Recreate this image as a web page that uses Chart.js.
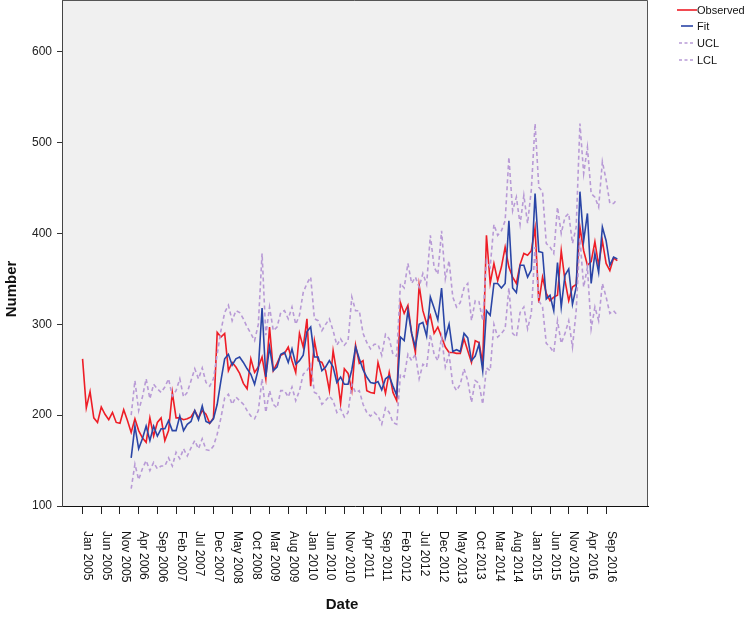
<!DOCTYPE html>
<html>
<head>
<meta charset="utf-8">
<script src="https://cdn.jsdelivr.net/npm/chart.js@4.4.1/dist/chart.umd.min.js"></script>
<style>
  html, body { margin: 0; padding: 0; background: #fff; }
</style>
</head>
<body>
<canvas id="chart" width="748" height="624"></canvas>
<script>
// x positions are month indices, Jan 2005 = 0 ... Dec 2016 = 143
const tickLabels = ['Jan 2005', 'Jun 2005', 'Nov 2005', 'Apr 2006', 'Sep 2006', 'Feb 2007', 'Jul 2007',
    'Dec 2007', 'May 2008', 'Oct 2008', 'Mar 2009', 'Aug 2009', 'Jan 2010', 'Jun 2010', 'Nov 2010',
    'Apr 2011', 'Sep 2011', 'Feb 2012', 'Jul 2012', 'Dec 2012', 'May 2013', 'Oct 2013', 'Mar 2014',
    'Aug 2014', 'Jan 2015', 'Jun 2015', 'Nov 2015', 'Apr 2016', 'Sep 2016'];
const tickStep = 5;
const yTicks = [100, 200, 300, 400, 500, 600];

const observed = [
    262, 208, 226, 197, 192, 209, 201, 195, 203, 192,
    191, 206, 194, 181, 196, 183, 175, 170, 197, 177,
    192, 197, 172, 183, 225, 197, 197, 195, 196, 198,
    205, 197, 205, 201, 191, 197, 291, 286, 290, 249,
    258, 253, 246, 235, 229, 262, 247, 253, 264, 240,
    297, 249, 257, 266, 268, 275, 260, 247, 290, 275,
    306, 232, 282, 260, 258, 249, 227, 271, 246, 213,
    251, 246, 227, 277, 257, 260, 227, 225, 224, 258,
    242, 224, 247, 225, 216, 324, 312, 321, 290, 269,
    343, 315, 301, 310, 290, 297, 286, 275, 269, 269,
    268, 268, 284, 271, 258, 282, 280, 257, 398, 345,
    367, 348, 363, 385, 363, 352, 345, 366, 378, 376,
    381, 406, 324, 352, 334, 326, 330, 332, 381, 348,
    326, 341, 344, 407, 381, 365, 369, 391, 365, 392,
    367, 359, 373, 370
];

const fit = [
    null, null, null, null, null, null, null, null, null, null,
    null, null, null, 153, 188, 163, 174, 188, 172, 188,
    177, 185, 185, 194, 183, 183, 199, 183, 190, 193,
    205, 195, 210, 193, 191, 196, 212, 238, 262, 267,
    255, 262, 264, 258, 251, 245, 234, 251, 318, 242,
    275, 249, 253, 267, 269, 258, 273, 256, 260, 266,
    292, 297, 264, 264, 249, 253, 260, 253, 236, 242,
    234, 234, 250, 275, 262, 250, 242, 236, 235, 237,
    228, 240, 243, 232, 222, 286, 282, 315, 290, 275,
    300, 302, 287, 330, 318, 305, 340, 285, 300, 270,
    272, 270, 290, 285, 260, 265, 278, 249, 315, 310,
    345, 345, 340, 345, 414, 340, 335, 365, 365, 352,
    360, 444, 380, 379, 328, 332, 315, 368, 319, 354,
    361, 322, 341, 446, 392, 422, 345, 378, 357, 407,
    392, 365, 374, 372
];

const ucl = [
    null, null, null, null, null, null, null, null, null, null,
    null, null, null, 200, 238, 205, 220, 240, 218, 234,
    229, 225, 231, 240, 221, 227, 240, 220, 225, 238,
    251, 240, 252, 236, 232, 240, 267, 293, 313, 321,
    304, 315, 313, 306, 297, 290, 282, 300, 378, 288,
    319, 293, 297, 313, 315, 306, 319, 300, 310, 335,
    345, 352, 306, 304, 293, 300, 306, 293, 277, 284,
    277, 282, 330, 315, 315, 290, 280, 273, 278, 278,
    266, 289, 284, 267, 265, 345, 340, 367, 345, 352,
    341, 356, 344, 398, 363, 355, 403, 350, 370, 330,
    319, 324, 340, 345, 304, 326, 325, 304, 370, 363,
    410, 398, 403, 414, 484, 425, 440, 410, 442, 411,
    448, 521, 451, 446, 389, 385, 378, 429, 400, 418,
    422, 389, 407, 521, 466, 495, 444, 440, 429, 479,
    459, 433, 433, 438
];

const lcl = [
    null, null, null, null, null, null, null, null, null, null,
    null, null, null, 119, 146, 129, 141, 150, 139, 148,
    141, 144, 144, 153, 144, 159, 152, 163, 155, 164,
    172, 163, 174, 162, 161, 166, 179, 197, 219, 223,
    212, 220, 216, 212, 205, 199, 196, 205, 240, 203,
    227, 212, 208, 227, 227, 220, 231, 216, 227, 245,
    249, 256, 225, 223, 212, 216, 221, 216, 203, 207,
    198, 203, 234, 225, 227, 212, 203, 199, 203, 199,
    190, 208, 203, 192, 190, 245, 242, 267, 260, 267,
    240, 256, 253, 289, 267, 260, 286, 253, 267, 234,
    227, 234, 251, 238, 214, 238, 235, 212, 252, 249,
    300, 286, 290, 295, 340, 290, 286, 313, 319, 295,
    312, 385, 326, 319, 279, 275, 269, 304, 279, 290,
    304, 275, 315, 395, 341, 363, 295, 319, 304, 345,
    330, 312, 315, 310
];

const seriesNames = ['Observed', 'Fit', 'UCL', 'LCL'];
const seriesColors = ['#ee1d26', '#2a45a6', '#b89ad6', '#b89ad6'];

function toPoints(arr) {
    return arr.map((v, i) => ({ x: i, y: v }));
}

// gray plot background, frame, rotated month labels, titles and legend
const sketchPlugin = {
    id: 'sketch',
    beforeDraw(chart) {
        const { ctx, chartArea: a } = chart;
        ctx.save();
        ctx.fillStyle = '#f0f0f0';
        ctx.fillRect(a.left, a.top, a.right - a.left, a.bottom - a.top);
        ctx.restore();
    },
    afterDraw(chart) {
        const { ctx, chartArea: a } = chart;
        const xs = chart.scales.x;
        ctx.save();

        // right / top frame
        ctx.strokeStyle = '#555';
        ctx.lineWidth = 1;
        ctx.beginPath();
        ctx.moveTo(a.left, a.top + 0.5);
        ctx.lineTo(a.right - 0.5, a.top + 0.5);
        ctx.lineTo(a.right - 0.5, a.bottom);
        ctx.stroke();

        // month labels, reading top to bottom
        ctx.fillStyle = '#111';
        ctx.font = '12px "Liberation Sans", Arial, sans-serif';
        ctx.textAlign = 'left';
        ctx.textBaseline = 'middle';
        tickLabels.forEach((lab, k) => {
            const px = xs.getPixelForValue(k * tickStep);
            ctx.save();
            ctx.translate(px + 5, 531);
            ctx.rotate(Math.PI / 2);
            ctx.fillText(lab, 0, 0);
            ctx.restore();
        });

        // axis titles
        ctx.fillStyle = '#111';
        ctx.font = 'bold 15px "Liberation Sans", Arial, sans-serif';
        ctx.textAlign = 'center';
        ctx.fillText('Date', 342, 605);
        ctx.save();
        ctx.translate(12, 289);
        ctx.rotate(-Math.PI / 2);
        ctx.fillText('Number', 0, 0);
        ctx.restore();

        // legend
        const rows = [
            { y: 10, x0: 677, x1: 697 },
            { y: 26, x0: 681, x1: 693 },
            { y: 43, x0: 679, x1: 694 },
            { y: 60, x0: 679, x1: 694 }
        ];
        ctx.font = '11px "Liberation Sans", Arial, sans-serif';
        ctx.textAlign = 'left';
        ctx.textBaseline = 'middle';
        seriesNames.forEach((name, k) => {
            const r = rows[k];
            ctx.strokeStyle = seriesColors[k];
            ctx.lineWidth = 1.6;
            ctx.setLineDash(k >= 2 ? [3, 2.5] : []);
            ctx.beginPath();
            ctx.moveTo(r.x0, r.y);
            ctx.lineTo(r.x1, r.y);
            ctx.stroke();
            ctx.setLineDash([]);
            ctx.fillStyle = '#111';
            ctx.fillText(name, 697, r.y + 1);
        });
        ctx.restore();
    }
};

const ctx = document.getElementById('chart').getContext('2d');
new Chart(ctx, {
    type: 'line',
    data: {
        datasets: [
            { label: 'Observed', data: toPoints(observed), borderColor: seriesColors[0], borderWidth: 1.6, order: 4 },
            { label: 'Fit', data: toPoints(fit), borderColor: seriesColors[1], borderWidth: 1.6, order: 3 },
            { label: 'UCL', data: toPoints(ucl), borderColor: seriesColors[2], borderWidth: 1.6, borderDash: [4, 3], order: 2 },
            { label: 'LCL', data: toPoints(lcl), borderColor: seriesColors[3], borderWidth: 1.6, borderDash: [4, 3], order: 1 }
        ]
    },
    options: {
        responsive: false,
        animation: false,
        spanGaps: false,
        elements: {
            point: { radius: 0 },
            line: { tension: 0, fill: false }
        },
        layout: { padding: { left: 0, right: 100, top: 0, bottom: 0 } },
        plugins: {
            legend: { display: false },
            tooltip: { enabled: false }
        },
        scales: {
            x: {
                type: 'linear',
                min: -5.5,
                max: 151.2,
                grid: { drawOnChartArea: false, drawTicks: true, tickLength: 8, color: '#222' },
                border: { display: true, color: '#111', width: 1 },
                ticks: { display: false },
                afterBuildTicks: s => { s.ticks = tickLabels.map((_, k) => ({ value: k * tickStep })); },
                afterFit: s => { s.height = 118; s.paddingLeft = 0; s.paddingRight = 0; }
            },
            y: {
                type: 'linear',
                min: 100,
                max: 657,
                grid: { drawOnChartArea: false, drawTicks: true, tickLength: 5, color: '#333' },
                border: { display: true, color: '#444', width: 1 },
                ticks: {
                    includeBounds: false,
                    padding: 5,
                    color: '#222',
                    font: { family: '"Liberation Sans", Arial, sans-serif', size: 12 }
                },
                afterBuildTicks: s => { s.ticks = yTicks.map(v => ({ value: v })); },
                afterFit: s => { s.width = 62; s.paddingTop = 0; s.paddingBottom = 0; }
            }
        }
    },
    plugins: [sketchPlugin]
});
</script>
</body>
</html>
